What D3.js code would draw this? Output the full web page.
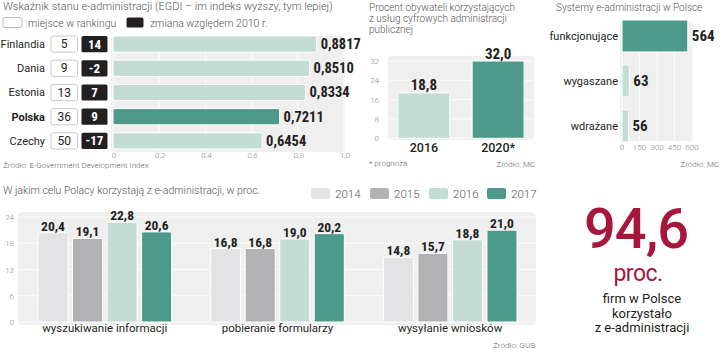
<!DOCTYPE html>
<html>
<head>
<meta charset="utf-8">
<script src="https://cdn.jsdelivr.net/npm/d3@7"></script>
<style>
  body { margin: 0; background: #fff; }
  svg text { font-family: Roboto, "Noto Sans", sans-serif; }
  .num { font-family: "Liberation Sans Narrow", "Roboto Condensed", Roboto, sans-serif; font-weight: bold; fill: #231f20; }
  .ttl { font-weight: 300; fill: #555; font-size: 10.5px; }
  .tick { font-size: 8px; fill: #888; font-weight: 300; }
  .src { font-size: 8px; fill: #666; font-weight: 300; }
</style>
</head>
<body>
<div id="chart"></div>
<script>
// EGDI ranking
var countries = ["Finlandia", "Dania", "Estonia", "Polska", "Czechy"];
var egdi = [0.8817, 0.851, 0.8334, 0.7211, 0.6454];
var rank = [5, 9, 13, 36, 50];
var change = [14, -2, 7, 9, -17];
var egdiTicks = [0, 0.2, 0.4, 0.6, 0.8, 1.0];

// share of citizens
var years2 = ["2016", "2020*"];
var share = [18.8, 32.0];
var shareTicks = [0, 8, 16, 24, 32];

// systems
var systems = ["funkcjonujące", "wygaszane", "wdrażane"];
var systemCount = [564, 63, 56];
var systemTicks = [0, 150, 300, 450, 600];

// purposes
var purposes = ["wyszukiwanie informacji", "pobieranie formularzy", "wysyłanie wniosków"];
var years4 = ["2014", "2015", "2016", "2017"];
var purposeValues = [
  [20.4, 19.1, 22.8, 20.6],
  [16.8, 16.8, 19.0, 20.2],
  [14.8, 15.7, 18.8, 21.0]
];
var purposeTicks = [0, 6, 12, 18, 24];

var yearColors = ["#e3e3e5", "#b2b1b3", "#c3ddd5", "#4e9a8a"];
var mint = "#c3ddd5", teal = "#4e9a8a", panelBg = "#efefef";

var fmt = function (d, n) { return d.toFixed(n).replace(".", ","); };

var w = 720, h = 352;
var svg = d3.select("#chart").append("svg").attr("width", w).attr("height", h);

// ---------- panel 1: EGDI ----------
svg.append("text").attr("class", "ttl").attr("x", 3).attr("y", 10).style("font-size", "11px")
  .text("Wskaźnik stanu e-administracji (EGDI – im indeks wyższy, tym lepiej)");

svg.append("rect").attr("x", 3).attr("y", 17.5).attr("width", 19).attr("height", 10).attr("rx", 2)
  .attr("fill", "#fff").attr("stroke", "#bbb");
svg.append("text").attr("class", "ttl").attr("x", 28).attr("y", 26.5).text("miejsce w rankingu");
svg.append("rect").attr("x", 126.5).attr("y", 17.5).attr("width", 17).attr("height", 10).attr("rx", 1.5)
  .attr("fill", "#231f20");
svg.append("text").attr("class", "ttl").attr("x", 150).attr("y", 26.5).text("zmiana względem 2010 r.");

var x1 = d3.scaleLinear().domain([0, 1]).range([113, 344]);
var y1 = d3.scaleBand().domain(countries).range([32, 153]).paddingInner(0.33).paddingOuter(0.165);

svg.append("rect").attr("x", 111).attr("y", 36).attr("width", 234).attr("height", 116).attr("rx", 4)
  .attr("fill", panelBg);
svg.selectAll(".g1").data(egdiTicks).enter().append("line")
  .attr("x1", d => x1(d)).attr("x2", d => x1(d)).attr("y1", 37).attr("y2", 151)
  .attr("stroke", "#fff").attr("stroke-width", 0.8);

var rows = svg.selectAll(".row").data(countries).enter().append("g")
  .attr("transform", d => "translate(0," + y1(d) + ")");
var bh = y1.bandwidth();

rows.append("text").attr("x", 45).attr("y", bh / 2 + 4).attr("text-anchor", "end")
  .attr("font-size", 11).attr("fill", "#231f20")
  .attr("font-weight", d => d === "Polska" ? "bold" : "normal").text(d => d);
rows.append("rect").attr("x", 51).attr("y", 0).attr("width", 26.5).attr("height", bh).attr("rx", 2)
  .attr("fill", "#fff").attr("stroke", "#bbb").attr("stroke-width", 0.8);
rows.append("text").attr("x", 64.2).attr("y", bh / 2 + 4.2).attr("text-anchor", "middle")
  .attr("font-size", 12).attr("fill", "#231f20").text((d, i) => rank[i]);
rows.append("rect").attr("x", 81.5).attr("y", 0).attr("width", 26).attr("height", bh).attr("rx", 1.5)
  .attr("fill", "#231f20");
rows.append("text").attr("class", "num").attr("x", 94.5).attr("y", bh / 2 + 4.5).attr("text-anchor", "middle")
  .attr("font-size", 13).style("fill", "#fff").text((d, i) => change[i]);
rows.append("rect").attr("x", x1(0)).attr("y", 0)
  .attr("width", (d, i) => x1(egdi[i]) - x1(0)).attr("height", bh).attr("rx", 2)
  .attr("fill", d => d === "Polska" ? teal : mint).attr("stroke", "#fff").attr("stroke-width", 1);
rows.append("text").attr("class", "num").attr("x", (d, i) => x1(egdi[i]) + 4).attr("y", bh / 2 + 5)
  .attr("font-size", 14.5).text((d, i) => fmt(egdi[i], 4));

svg.selectAll(".t1").data(egdiTicks).enter().append("text").attr("class", "tick")
  .attr("x", d => x1(d) + 1).attr("y", 158).attr("text-anchor", "middle").text(d => fmt(d, d === 0 ? 0 : 1));
svg.append("text").attr("class", "src").attr("x", 3).attr("y", 168)
  .text("Źródło: E-Government Development Index");

// ---------- panel 2: share of citizens ----------
["Procent obywateli korzystających", "z usług cyfrowych administracji", "publicznej"].forEach(function (t, i) {
  svg.append("text").attr("class", "ttl").attr("x", 369).attr("y", 11 + i * 11).style("font-size", "10px").text(t);
});
var x2 = d3.scaleBand().domain(years2).range([389, 533]).paddingInner(0.3).paddingOuter(0.12);
var y2 = d3.scaleLinear().domain([0, 32]).range([138.3, 61]);

svg.append("rect").attr("x", 388).attr("y", 56).attr("width", 146).attr("height", 84).attr("rx", 4)
  .attr("fill", panelBg);
svg.selectAll(".g2").data(shareTicks).enter().append("line")
  .attr("x1", 389).attr("x2", 533).attr("y1", d => y2(d)).attr("y2", d => y2(d))
  .attr("stroke", "#fff").attr("stroke-width", 0.8);
svg.selectAll(".t2").data(shareTicks).enter().append("text").attr("class", "tick")
  .attr("x", 379).attr("y", d => y2(d) + 3).attr("text-anchor", "end").text(d => d);
svg.selectAll(".b2").data(share).enter().append("rect")
  .attr("x", (d, i) => x2(years2[i])).attr("y", d => y2(d))
  .attr("width", x2.bandwidth()).attr("height", d => y2(0) - y2(d)).attr("rx", 1.5)
  .attr("fill", (d, i) => i === 0 ? mint : teal).attr("stroke", "#fff").attr("stroke-width", 1);
svg.selectAll(".v2").data(share).enter().append("text").attr("class", "num")
  .attr("x", (d, i) => x2(years2[i]) + x2.bandwidth() / 2).attr("y", d => y2(d) - 2.5)
  .attr("text-anchor", "middle").attr("font-size", 15).text(d => fmt(d, 1));
svg.selectAll(".c2").data(years2).enter().append("text")
  .attr("x", d => x2(d) + x2.bandwidth() / 2).attr("y", 151.5).attr("text-anchor", "middle")
  .attr("font-size", 12.5).attr("font-weight", 500).attr("fill", "#231f20").text(d => d);
svg.append("text").attr("class", "src").attr("x", 369).attr("y", 166).text("* prognoza");
svg.append("text").attr("class", "src").attr("x", 535).attr("y", 167).attr("text-anchor", "end").text("Źródło: MC");

// ---------- panel 3: systems ----------
svg.append("text").attr("class", "ttl").attr("x", 556).attr("y", 11).style("font-size", "10px")
  .text("Systemy e-administracji w Polsce");
var x3 = d3.scaleLinear().domain([0, 600]).range([622, 692]);
var y3 = d3.scaleBand().domain(systems).range([13.5, 148.4]).paddingInner(0.29).paddingOuter(0.145);

svg.append("rect").attr("x", 620).attr("y", 22).attr("width", 73).attr("height", 119).attr("rx", 3)
  .attr("fill", panelBg);
svg.selectAll(".g3").data(systemTicks).enter().append("line")
  .attr("x1", d => x3(d)).attr("x2", d => x3(d)).attr("y1", 23).attr("y2", 140)
  .attr("stroke", "#fff").attr("stroke-width", 0.8);
svg.selectAll(".b3").data(systemCount).enter().append("rect")
  .attr("x", x3(0)).attr("y", (d, i) => y3(systems[i]))
  .attr("width", d => x3(d) - x3(0)).attr("height", y3.bandwidth()).attr("rx", 1.5)
  .attr("fill", (d, i) => i === 0 ? teal : mint).attr("stroke", "#fff").attr("stroke-width", 1);
svg.selectAll(".l3").data(systems).enter().append("text")
  .attr("x", 618).attr("y", d => y3(d) + y3.bandwidth() / 2 + 4).attr("text-anchor", "end")
  .attr("font-size", 11).attr("fill", "#231f20").text(d => d);
svg.selectAll(".v3").data(systemCount).enter().append("text").attr("class", "num")
  .attr("x", d => x3(d) + 4).attr("y", (d, i) => y3(systems[i]) + y3.bandwidth() / 2 + 5.5)
  .attr("font-size", 15).text(d => d);
svg.selectAll(".t3").data(systemTicks).enter().append("text").attr("class", "tick")
  .attr("x", d => x3(d)).attr("y", 150).attr("text-anchor", "middle").text(d => d);
svg.append("text").attr("class", "src").attr("x", 719).attr("y", 167).attr("text-anchor", "end").text("Źródło: MC");

// ---------- panel 4: purposes ----------
svg.append("text").attr("class", "ttl").attr("x", 3).attr("y", 194)
  .text("W jakim celu Polacy korzystają z e-administracji, w proc.");

var legX = [311, 370, 429, 487];
years4.forEach(function (yr, i) {
  svg.append("rect").attr("x", legX[i]).attr("y", 188).attr("width", 19).attr("height", 11).attr("rx", 2)
    .attr("fill", yearColors[i]);
  svg.append("text").attr("x", legX[i] + 24).attr("y", 198).attr("font-size", 11.5)
    .attr("font-weight", 300).attr("fill", "#555").text(yr);
});

var x4 = d3.scaleBand().domain(purposes).range([19, 536]).paddingInner(0.226).paddingOuter(0.11);
var x4i = d3.scaleBand().domain(years4).range([0, x4.bandwidth()]).paddingInner(0.13);
var y4 = d3.scaleLinear().domain([0, 24]).range([322, 217]);

svg.append("rect").attr("x", 18).attr("y", 212).attr("width", 518).attr("height", 113).attr("rx", 5)
  .attr("fill", panelBg);
svg.selectAll(".g4").data(purposeTicks).enter().append("line")
  .attr("x1", 18).attr("x2", 536).attr("y1", d => y4(d)).attr("y2", d => y4(d))
  .attr("stroke", "#fff").attr("stroke-width", 0.8);
svg.selectAll(".t4").data(purposeTicks).enter().append("text").attr("class", "tick")
  .attr("x", 14).attr("y", d => y4(d) + 3).attr("text-anchor", "end").text(d => d);

var groups = svg.selectAll(".grp").data(purposes).enter().append("g")
  .attr("transform", d => "translate(" + x4(d) + ",0)");
groups.selectAll("rect").data((d, i) => purposeValues[i]).enter().append("rect")
  .attr("x", (d, j) => x4i(years4[j])).attr("y", d => y4(d))
  .attr("width", x4i.bandwidth()).attr("height", d => y4(0) - y4(d)).attr("rx", 1.5)
  .attr("fill", (d, j) => yearColors[j]).attr("stroke", "#fff").attr("stroke-width", 1);
groups.selectAll(".v4").data((d, i) => purposeValues[i]).enter().append("text").attr("class", "num")
  .attr("x", (d, j) => x4i(years4[j]) + x4i.bandwidth() / 2).attr("y", d => y4(d) - 2)
  .attr("text-anchor", "middle").attr("font-size", 13.5).text(d => fmt(d, 1));
groups.append("text").attr("x", x4.bandwidth() / 2).attr("y", 332).attr("text-anchor", "middle")
  .attr("font-size", 11.5).attr("fill", "#231f20").text(d => d);
svg.append("text").attr("class", "src").attr("x", 535).attr("y", 348).attr("text-anchor", "end").text("Źródło: GUS");

// ---------- panel 5: big number ----------
var red = "#a6173b";
svg.append("text").attr("x", 636).attr("y", 248).attr("text-anchor", "middle")
  .attr("font-size", 56).attr("font-weight", 500).attr("fill", red).attr("letter-spacing", -1).text("94,6");
svg.append("text").attr("x", 638).attr("y", 281).attr("text-anchor", "middle")
  .attr("font-size", 23).attr("fill", red).attr("letter-spacing", -0.5).text("proc.");
["firm w Polsce", "korzystało", "z e-administracji"].forEach(function (t, i) {
  svg.append("text").attr("x", 642).attr("y", 303 + i * 14.5).attr("text-anchor", "middle")
    .attr("font-size", 13).attr("fill", "#231f20").text(t);
});
</script>
</body>
</html>
